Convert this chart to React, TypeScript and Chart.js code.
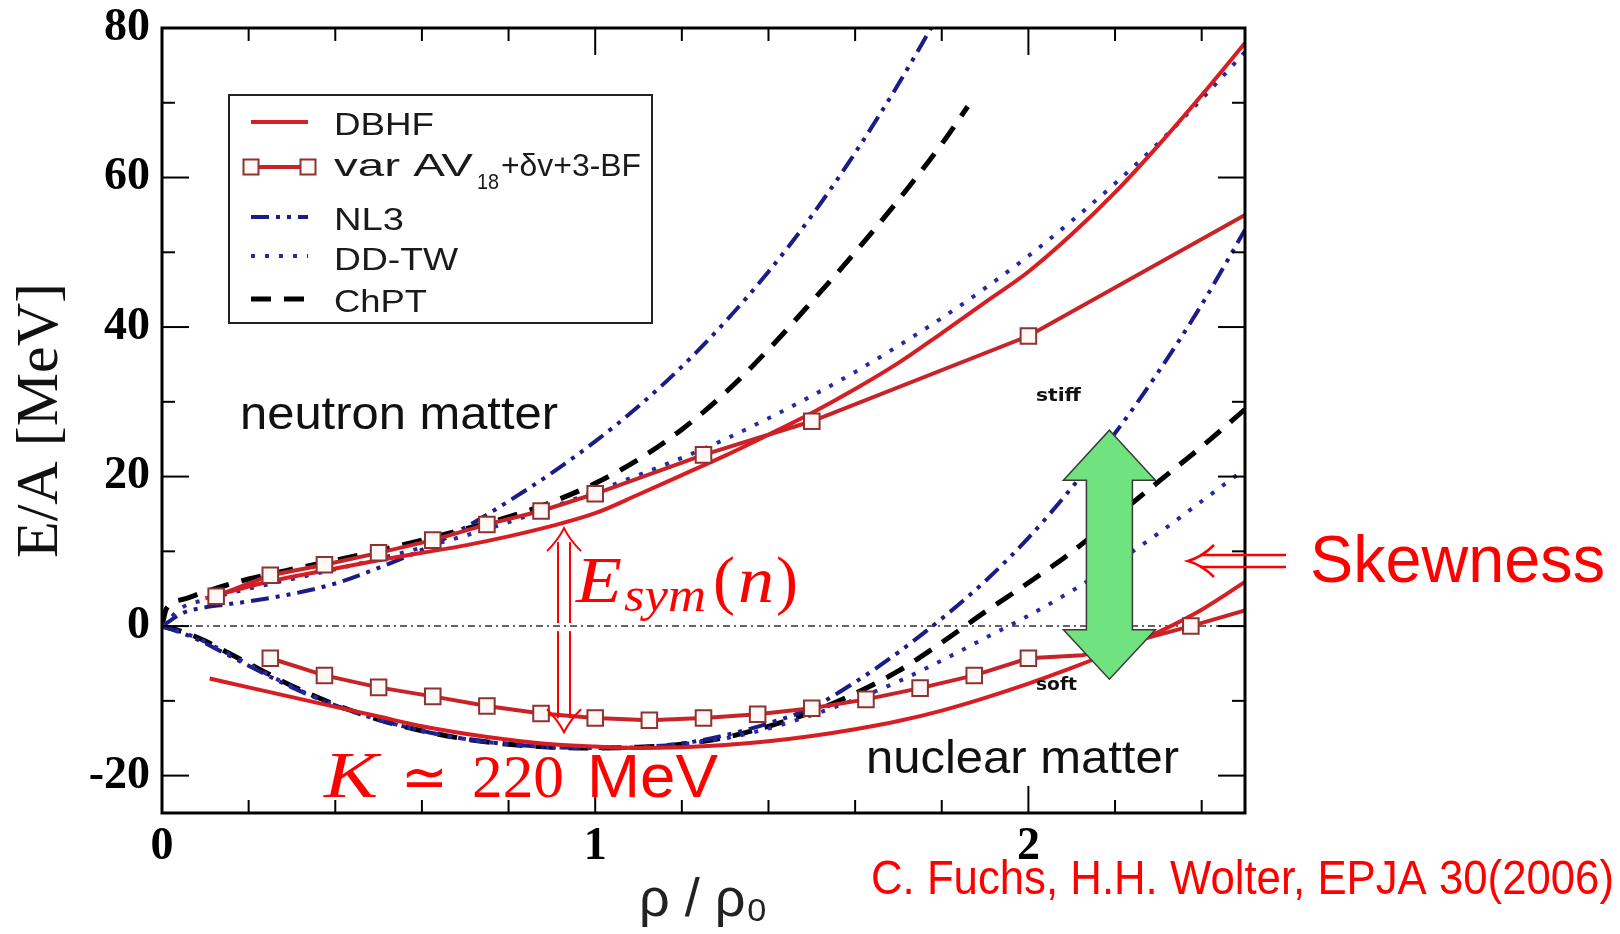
import React, { useEffect, useRef } from "react";
import { Chart, registerables } from "chart.js";

Chart.register(...registerables);

// ---------------- data (rho / rho0 , E/A in MeV) ----------------
const xTickValues = [0, 1, 2];
const yTickValues = [-20, 0, 20, 40, 60, 80];

const modelGrid = [0, 0.05, 0.1, 0.15, 0.2, 0.3, 0.4, 0.5, 0.6, 0.7, 0.8, 0.9, 1.0, 1.1, 1.2, 1.3, 1.4, 1.5, 1.6, 1.7, 1.8, 1.9, 2.0, 2.1, 2.2, 2.3, 2.4, 2.5];

const dbhfNeutronRho = [0.1, 0.2, 0.3, 0.4, 0.5, 0.6, 0.7, 0.8, 0.9, 1.0, 1.1, 1.2, 1.3, 1.4, 1.5, 1.6, 1.7, 1.8, 1.9, 2.0, 2.1, 2.2, 2.3, 2.4, 2.5];
const dbhfNeutronE = [3.7, 5.3, 6.6, 7.7, 8.8, 9.8, 10.8, 12.0, 13.4, 15.1, 17.6, 20.2, 22.8, 25.6, 28.5, 31.7, 35.2, 39.2, 43.3, 47.4, 52.4, 58.0, 64.3, 71.0, 78.0];

const dbhfNuclearRho = [0.11, 0.2, 0.3, 0.4, 0.5, 0.6, 0.7, 0.8, 0.9, 1.0, 1.1, 1.2, 1.3, 1.4, 1.5, 1.6, 1.7, 1.8, 1.9, 2.0, 2.1, 2.2, 2.3, 2.4, 2.5];
const dbhfNuclearE = [-7.0, -8.2, -9.5, -10.8, -12.1, -13.4, -14.4, -15.2, -15.8, -16.1, -16.3, -16.2, -15.9, -15.4, -14.7, -13.8, -12.7, -11.3, -9.6, -7.7, -5.6, -3.3, -0.8, 2.2, 5.9];

const varNeutronRho = [0.125, 0.25, 0.375, 0.5, 0.625, 0.75, 0.875, 1.0, 1.25, 1.5, 2.0, 2.5];
const varNeutronE = [4.0, 6.8, 8.2, 9.8, 11.5, 13.6, 15.4, 17.7, 22.9, 27.4, 38.8, 55.0];
const varNeutronNoMarker = [2.5];

const varNuclearRho = [0.25, 0.375, 0.5, 0.625, 0.75, 0.875, 1.0, 1.125, 1.25, 1.375, 1.5, 1.625, 1.75, 1.875, 2.0, 2.125, 2.375, 2.5];
const varNuclearE = [-4.3, -6.6, -8.2, -9.4, -10.7, -11.7, -12.3, -12.6, -12.3, -11.8, -11.0, -9.8, -8.3, -6.6, -4.3, -3.9, 0.0, 2.1];
const varNuclearNoMarker = [2.125, 2.5];

const nl3NeutronRho = [0, 0.05, 0.1, 0.15, 0.2, 0.3, 0.4, 0.5, 0.6, 0.7, 0.8, 0.9, 1.0, 1.1, 1.2, 1.3, 1.4, 1.5, 1.6, 1.7, 1.8];
const nl3NeutronE = [0, 1.8, 2.5, 2.9, 3.3, 4.3, 5.7, 7.8, 10.2, 13.2, 16.7, 20.5, 24.7, 29.4, 34.7, 40.7, 47.4, 54.9, 63.3, 72.5, 82.5];
const nl3NuclearE = [0, -1.0, -2.3, -3.8, -5.3, -8.2, -10.6, -12.5, -14.0, -15.1, -15.8, -16.2, -16.3, -16.2, -15.7, -14.6, -13.0, -10.9, -7.5, -3.5, 1.0, 6.0, 11.8, 18.5, 25.8, 34.0, 43.0, 53.0];

const ddtwNeutronE = [0, 2.6, 3.5, 4.3, 5.0, 6.3, 7.6, 9.0, 10.5, 12.1, 13.9, 15.9, 18.0, 20.2, 22.5, 25.0, 27.8, 30.8, 34.0, 37.5, 41.2, 45.2, 49.5, 54.2, 59.2, 64.6, 70.5, 76.8];
const ddtwNuclearE = [0, -0.9, -2.1, -3.6, -5.1, -8.1, -10.6, -12.5, -14.0, -15.1, -15.8, -16.2, -16.3, -16.2, -15.8, -15.0, -13.7, -11.9, -9.8, -7.4, -4.6, -1.6, 1.4, 4.7, 8.4, 12.4, 16.7, 21.0];

const chptNeutronRho = [0, 0.01, 0.05, 0.1, 0.15, 0.2, 0.3, 0.4, 0.5, 0.6, 0.7, 0.8, 0.9, 1.0, 1.1, 1.2, 1.3, 1.4, 1.5, 1.6, 1.7, 1.8, 1.86];
const chptNeutronE = [0, 2.3, 3.6, 4.6, 5.5, 6.3, 7.6, 8.8, 10.1, 11.5, 13.0, 14.6, 16.6, 19.1, 22.3, 26.3, 31.2, 37.0, 43.4, 50.0, 57.0, 64.5, 69.5];
const chptNuclearE = [0, -0.8, -2.0, -3.5, -5.0, -8.0, -10.5, -12.5, -14.0, -15.1, -15.8, -16.2, -16.3, -16.2, -15.8, -14.9, -13.4, -11.5, -9.0, -6.0, -2.2, 1.9, 5.8, 9.9, 14.6, 19.3, 24.0, 29.0];

const zeroRho = [0, 2.5];
const zeroE = [0, 0];

const legendLabels = ["DBHF", "var AV", "NL3", "DD-TW", "ChPT"];

// ---------------- styles ----------------
const RED = "rgb(215,30,35)";
const RED2 = "rgb(200,35,40)";
const NAVY = "rgb(28,28,135)";
const BLUE = "rgb(40,40,165)";
const NL3_DASH = [18, 7, 4, 7, 4, 7];
const DDTW_DASH = [4, 10];
const CHPT_DASH = [20, 13];

const pts = (r: number[], e: number[]) => r.map((x, i) => ({ x, y: e[i] }));

const curve = (label: string, r: number[], e: number[], style: any) => ({
  label,
  data: pts(r, e),
  pointRadius: 0,
  borderWidth: 4,
  fill: false,
  cubicInterpolationMode: "monotone",
  ...style,
});

const squares = (skip: number[]) => ({
  tension: 0,
  cubicInterpolationMode: "default",
  pointStyle: "rect",
  pointRadius: (c: any) => (c.raw && skip.includes(c.raw.x) ? 0 : 11),
  pointBackgroundColor: "#fff8f5",
  pointBorderColor: "rgb(140,50,50)",
  pointBorderWidth: 2,
});

function txt(ctx: CanvasRenderingContext2D, s: string, x: number, y: number, font: string, color: string, width?: number) {
  ctx.save();
  ctx.font = font;
  ctx.fillStyle = color;
  ctx.textAlign = "left";
  ctx.textBaseline = "alphabetic";
  const w = ctx.measureText(s).width;
  const sx = width ? width / w : 1;
  ctx.translate(x, y);
  ctx.scale(sx, 1);
  ctx.fillText(s, 0, 0);
  ctx.restore();
  return w * sx;
}

function seg(ctx: CanvasRenderingContext2D, x1: number, y1: number, x2: number, y2: number) {
  ctx.beginPath();
  ctx.moveTo(x1, y1);
  ctx.lineTo(x2, y2);
  ctx.stroke();
}

const decor = {
  id: "decor",
  beforeDraw(chart: any) {
    const c = chart.ctx;
    c.save();
    c.fillStyle = "#fff";
    c.fillRect(0, 0, chart.width, chart.height);
    c.restore();
  },
  afterDatasetsDraw(chart: any) {
    const ctx: CanvasRenderingContext2D = chart.ctx;
    const { left, right, top, bottom } = chart.chartArea;
    const xs = chart.scales.x;
    const ys = chart.scales.y;
    ctx.save();
    ctx.strokeStyle = "#000";
    ctx.lineWidth = 2;
    for (let i = 1; i <= 12; i++) {
      const v = i * 0.2;
      const major = Math.abs(v - Math.round(v)) < 1e-6;
      const L = major ? 27 : 13;
      const x = xs.getPixelForValue(v);
      seg(ctx, x, bottom, x, bottom - L);
      seg(ctx, x, top, x, top + L);
    }
    for (let v = -20; v <= 70; v += 10) {
      const major = v % 20 === 0;
      const L = major ? 27 : 13;
      const y = ys.getPixelForValue(v);
      seg(ctx, left, y, left + L, y);
      seg(ctx, right, y, right - L, y);
    }
    ctx.lineWidth = 3;
    ctx.strokeRect(left, top, right - left, bottom - top);
    ctx.restore();
  },
  afterDraw(chart: any) {
    const ctx: CanvasRenderingContext2D = chart.ctx;
    const xs = chart.scales.x;
    const ys = chart.scales.y;
    const X = (v: number) => xs.getPixelForValue(v);
    const Y = (v: number) => ys.getPixelForValue(v);
    ctx.save();

    // ---- legend box ----
    ctx.strokeStyle = "#222";
    ctx.lineWidth = 2;
    ctx.strokeRect(229, 95, 423, 228);
    const lx1 = 251, lx2 = 308;
    const sample = (y: number, color: string, dash: number[], w: number) => {
      ctx.save();
      ctx.strokeStyle = color;
      ctx.lineWidth = w;
      ctx.setLineDash(dash);
      seg(ctx, lx1, y, lx2, y);
      ctx.restore();
    };
    sample(122, RED, [], 4);
    sample(167, RED2, [], 4);
    for (const sx of [lx1, lx2]) {
      ctx.fillStyle = "#fff8f5";
      ctx.strokeStyle = "rgb(140,50,50)";
      ctx.lineWidth = 2;
      ctx.fillRect(sx - 7.5, 167 - 7.5, 15, 15);
      ctx.strokeRect(sx - 7.5, 167 - 7.5, 15, 15);
    }
    sample(217, NAVY, NL3_DASH, 4);
    sample(256, BLUE, DDTW_DASH, 4);
    sample(299, "#000", CHPT_DASH, 5);
    const lf = '32px "Liberation Sans"';
    const lc = "#1a1a1a";
    txt(ctx, legendLabels[0], 334, 135, lf, lc, 100);
    txt(ctx, legendLabels[1], 334, 176, lf, lc, 139);
    txt(ctx, "18", 477, 189, '22px "Liberation Sans"', lc, 22);
    txt(ctx, "+δv+3-BF", 501, 176, lf, lc, 140);
    txt(ctx, legendLabels[2], 334, 230, lf, lc, 70);
    txt(ctx, legendLabels[3], 334, 270, lf, lc, 124);
    txt(ctx, legendLabels[4], 334, 312, lf, lc, 93);

    // ---- labels in plot ----
    txt(ctx, "neutron matter", 240, 429, '46px "Liberation Sans"', "#111", 318);
    txt(ctx, "nuclear matter", 866, 773, '46px "Liberation Sans"', "#111", 313);

    // ---- green double arrow ----
    const cx = X(2.187);
    const yT = Y(26.2), yHB1 = Y(19.5), yHB2 = Y(-0.5), yB = Y(-7.1);
    const hw = 46, sw = 23;
    ctx.beginPath();
    ctx.moveTo(cx, yT);
    ctx.lineTo(cx + hw, yHB1);
    ctx.lineTo(cx + sw, yHB1);
    ctx.lineTo(cx + sw, yHB2);
    ctx.lineTo(cx + hw, yHB2);
    ctx.lineTo(cx, yB);
    ctx.lineTo(cx - hw, yHB2);
    ctx.lineTo(cx - sw, yHB2);
    ctx.lineTo(cx - sw, yHB1);
    ctx.lineTo(cx - hw, yHB1);
    ctx.closePath();
    ctx.fillStyle = "rgb(112,226,128)";
    ctx.fill();
    ctx.strokeStyle = "#3a3a3a";
    ctx.lineWidth = 1.5;
    ctx.stroke();

    txt(ctx, "stiff", 1036, 401, 'bold 17px "DejaVu Sans"', "#111", 45);
    txt(ctx, "soft", 1036, 690, 'bold 17px "DejaVu Sans"', "#111", 41);

    // ---- red vertical double arrow (E_sym and K) ----
    ctx.strokeStyle = "#ff0000";
    ctx.fillStyle = "#ff0000";
    ctx.lineWidth = 2;
    const ax = X(0.928);
    const aTop = Y(13.1), aBot = Y(-14.2), y0 = Y(0);
    seg(ctx, ax - 6, aTop + 14, ax - 6, y0 - 3);
    seg(ctx, ax + 6, aTop + 14, ax + 6, y0 - 3);
    seg(ctx, ax - 6, y0 + 5, ax - 6, aBot - 14);
    seg(ctx, ax + 6, y0 + 5, ax + 6, aBot - 14);
    ctx.beginPath();
    ctx.moveTo(ax - 17, aTop + 23);
    ctx.quadraticCurveTo(ax - 6, aTop + 12, ax, aTop);
    ctx.quadraticCurveTo(ax + 6, aTop + 12, ax + 17, aTop + 23);
    ctx.stroke();
    ctx.beginPath();
    ctx.moveTo(ax - 17, aBot - 23);
    ctx.quadraticCurveTo(ax - 6, aBot - 12, ax, aBot);
    ctx.quadraticCurveTo(ax + 6, aBot - 12, ax + 17, aBot - 23);
    ctx.stroke();

    // E_sym(n)
    const R = "#ff0000";
    txt(ctx, "E", 576, 602, 'italic 66px "Liberation Serif"', R, 46);
    txt(ctx, "sym", 624, 611, 'italic 48px "Liberation Serif"', R, 82);
    txt(ctx, "(", 713, 602, '66px "Liberation Serif"', R);
    txt(ctx, "n", 738, 602, 'italic 66px "Liberation Serif"', R, 36);
    txt(ctx, ")", 776, 602, '66px "Liberation Serif"', R);

    // K ≃ 220 MeV
    txt(ctx, "K", 324, 797, 'italic 66px "Liberation Serif"', R, 54);
    txt(ctx, "≃", 401, 797, '58px "DejaVu Sans"', R, 47);
    txt(ctx, "220", 472, 797, '62px "Liberation Serif"', R, 92);
    txt(ctx, "MeV", 587, 797, '62px "Liberation Sans"', R, 131);

    // Skewness arrow and text
    ctx.lineWidth = 2.5;
    seg(ctx, 1200, 555, 1286, 555);
    seg(ctx, 1200, 567, 1286, 567);
    ctx.beginPath();
    ctx.moveTo(1214, 545);
    ctx.quadraticCurveTo(1202, 557, 1188, 561);
    ctx.quadraticCurveTo(1202, 565, 1214, 577);
    ctx.stroke();
    txt(ctx, "Skewness", 1310, 582, '66px "Liberation Sans"', R, 295);
    txt(ctx, "C. Fuchs, H.H. Wolter, EPJA 30(2006)", 871, 894, '48px "Liberation Sans"', R, 743);

    ctx.restore();
  },
};

export default function App() {
  const ref = useRef<HTMLCanvasElement>(null);
  useEffect(() => {
    const canvas = ref.current as HTMLCanvasElement;
    const datasets: any[] = [
      curve("var AV18 neutron", varNeutronRho, varNeutronE, { borderColor: RED2, ...squares(varNeutronNoMarker) }),
      curve("var AV18 nuclear", varNuclearRho, varNuclearE, { borderColor: RED2, ...squares(varNuclearNoMarker) }),
      curve("DBHF neutron", dbhfNeutronRho, dbhfNeutronE, { borderColor: RED }),
      curve("DBHF nuclear", dbhfNuclearRho, dbhfNuclearE, { borderColor: RED }),
      curve("DD-TW neutron", modelGrid, ddtwNeutronE, { borderColor: BLUE, borderDash: DDTW_DASH }),
      curve("DD-TW nuclear", modelGrid, ddtwNuclearE, { borderColor: BLUE, borderDash: DDTW_DASH }),
      curve("NL3 neutron", nl3NeutronRho, nl3NeutronE, { borderColor: NAVY, borderDash: NL3_DASH }),
      curve("NL3 nuclear", modelGrid, nl3NuclearE, { borderColor: NAVY, borderDash: NL3_DASH }),
      curve("ChPT neutron", chptNeutronRho, chptNeutronE, { borderColor: "#000", borderDash: CHPT_DASH, borderWidth: 5 }),
      curve("ChPT nuclear", modelGrid, chptNuclearE, { borderColor: "#000", borderDash: CHPT_DASH, borderWidth: 5 }),
      curve("zero", zeroRho, zeroE, { borderColor: "#333", borderDash: [7, 4, 2, 4], borderWidth: 1.5, cubicInterpolationMode: "default", tension: 0 }),
    ];
    const chart = new Chart(canvas, {
      type: "line",
      data: { datasets },
      plugins: [decor],
      options: {
        responsive: false,
        animation: false,
        events: [],
        layout: { padding: { left: 0, top: 28, right: 375, bottom: 0 } },
        plugins: { legend: { display: false }, tooltip: { enabled: false } },
        scales: {
          x: {
            type: "linear",
            min: 0,
            max: 2.5,
            afterBuildTicks: (s: any) => {
              s.ticks = xTickValues.map((v) => ({ value: v }));
            },
            afterFit: (s: any) => {
              s.height = 934 - 813;
              s.paddingLeft = 0;
              s.paddingRight = 0;
            },
            grid: { display: false, drawTicks: false },
            border: { display: false },
            ticks: {
              autoSkip: false,
              maxRotation: 0,
              padding: 7,
              color: "#000",
              font: { family: '"Liberation Serif"', size: 46, weight: "bold" },
              callback: (v: any) => String(v),
            },
            title: {
              display: true,
              text: "ρ / ρ₀",
              color: "#222",
              font: { family: '"Liberation Sans"', size: 54 },
              padding: { top: 0, bottom: 0 },
            },
          },
          y: {
            type: "linear",
            min: -25,
            max: 80,
            afterBuildTicks: (s: any) => {
              s.ticks = yTickValues.map((v) => ({ value: v }));
            },
            afterFit: (s: any) => {
              s.width = 162;
              s.paddingTop = 0;
              s.paddingBottom = 0;
            },
            grid: { display: false, drawTicks: false },
            border: { display: false },
            ticks: {
              autoSkip: false,
              padding: 12,
              color: "#000",
              font: { family: '"Liberation Serif"', size: 46, weight: "bold" },
              callback: (v: any) => String(v),
            },
            title: {
              display: true,
              text: "E/A [MeV]",
              color: "#111",
              font: { family: '"Liberation Serif"', size: 60 },
              padding: { top: 5, bottom: 0 },
            },
          },
        },
      } as any,
    });
    return () => chart.destroy();
  }, []);
  return (
    <div style={{ position: "fixed", left: 0, top: 0, width: 1620, height: 934, background: "#fff" }}>
      <canvas ref={ref} width={1620} height={934} style={{ display: "block", width: 1620, height: 934 }} />
    </div>
  );
}
